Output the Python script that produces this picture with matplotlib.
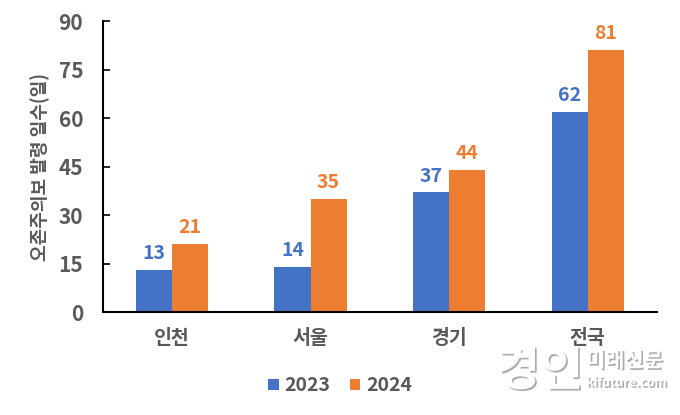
import matplotlib.pyplot as plt
import matplotlib.patheffects as pe
import numpy as np

plt.rcParams['font.family'] = ['Noto Sans CJK KR', 'DejaVu Sans']

regions = ['인천', '서울', '경기', '전국']
days_2023 = [13, 14, 37, 62]
days_2024 = [21, 35, 44, 81]
yticks = [0, 15, 30, 45, 60, 75, 90]

blue = '#4472C4'
orange = '#ED7D31'
grey = '#595959'

fig = plt.figure(figsize=(6.8, 4.15), dpi=100)
ax = fig.add_axes([0.151, 0.248, 0.815, 0.701])

x = np.arange(len(regions))
w = 0.26
b1 = ax.bar(x - w / 2, days_2023, w, color=blue, label='2023')
b2 = ax.bar(x + w / 2, days_2024, w, color=orange, label='2024')

for bars, color in ((b1, blue), (b2, orange)):
    for rect in bars:
        ax.annotate(f'{rect.get_height():.0f}',
                    (rect.get_x() + rect.get_width() / 2, rect.get_height()),
                    xytext=(0, 5), textcoords='offset points',
                    ha='center', va='bottom', color=color,
                    fontsize=14, fontweight='bold')

ax.set_xlim(-0.5, 3.5)
ax.set_ylim(0, 90)
ax.set_yticks(yticks)
ax.set_xticks(x)
ax.set_xticklabels(regions, fontsize=14, fontweight='bold', color=grey)
ax.tick_params(axis='x', length=0, pad=12)
ax.tick_params(axis='y', direction='in', length=5, width=1.2,
               labelsize=15, labelcolor=grey, pad=14)
for lab in ax.get_yticklabels():
    lab.set_fontweight('bold')

ax.spines['top'].set_visible(False)
ax.spines['right'].set_visible(False)
ax.spines['left'].set_linewidth(1.5)
ax.spines['bottom'].set_linewidth(1.5)

ax.set_ylabel('오존주의보 발령 일수(일)', fontsize=13, fontweight='bold',
              color=grey, labelpad=6)

leg = fig.legend(loc='center', bbox_to_anchor=(0.5, 0.07), ncol=2,
                 frameon=False, handlelength=0.55, handleheight=0.55,
                 handletextpad=0.3, columnspacing=1.0,
                 prop={'size': 14, 'weight': 'bold'})
for t in leg.get_texts():
    t.set_color(grey)

# watermark
shadow = [pe.withSimplePatchShadow(offset=(1.2, -1.2), shadow_rgbFace='#888888', alpha=0.7)]
fig.text(0.858, 0.105, '경인', fontsize=34, fontweight='bold', color='white',
         ha='right', va='center', path_effects=shadow)
fig.text(0.862, 0.132, '미래신문', fontsize=15, fontweight='bold', color='white',
         ha='left', va='center', path_effects=shadow)
fig.text(0.862, 0.078, 'kifuture.com', fontsize=9, fontweight='bold', color='white',
         ha='left', va='center', path_effects=shadow)

plt.savefig('out.png', dpi=100)
